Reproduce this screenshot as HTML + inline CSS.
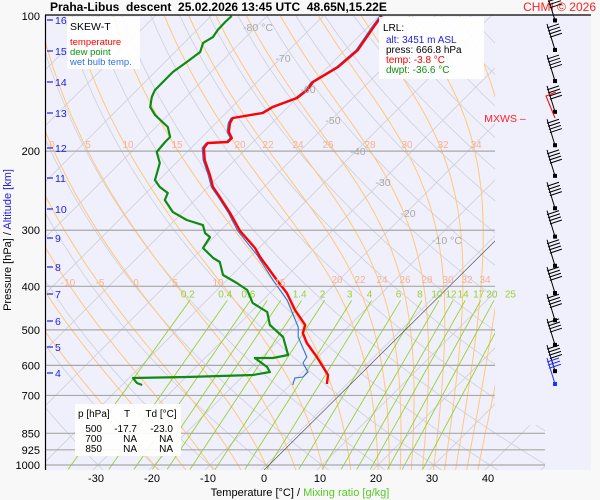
<!DOCTYPE html>
<html><head><meta charset="utf-8"><style>
html,body{margin:0;padding:0;background:#fff;}
svg{display:block;font-family:"Liberation Sans",sans-serif;}
</style></head><body>
<svg id="chart" width="600" height="500" viewBox="0 0 600 500" xmlns="http://www.w3.org/2000/svg">
<rect x="0" y="0" width="600" height="500" fill="#f8f8f8"/>
<rect x="45" y="15" width="546" height="455" fill="#f0f0fc"/>
<defs><clipPath id="clipA"><path d="M45,15 H495 V425 H545 V470 H45 Z"/></clipPath></defs>
<g id="grid" clip-path="url(#clipA)"></g>
<g id="series" clip-path="url(#clipA)"></g>
<g id="overlay"></g>
<line x1="45" y1="15" x2="591" y2="15" stroke="#000" stroke-width="1.2"/>
<line x1="45.5" y1="15" x2="45.5" y2="470" stroke="#000" stroke-width="1.2"/>
<text x="50" y="11" font-size="12" font-weight="bold">Praha-Libus&#160;&#160;descent&#160;&#160;25.02.2026 13:45 UTC&#160;&#160;48.65N,15.22E</text>
<text x="596" y="11" font-size="12" fill="#ff2020" text-anchor="end">CHMI © 2026</text>
<g>
<rect x="67" y="17" width="73" height="52" fill="#fff" opacity="0.9"/>
<text x="70" y="30" font-size="10.5">SKEW-T</text>
<text x="70" y="45" font-size="9.5" fill="#ff0000">temperature</text>
<text x="70" y="55" font-size="9.5" fill="#109010">dew point</text>
<text x="70" y="65" font-size="9.5" fill="#3070e0">wet bulb temp.</text>
</g>
<g>
<rect x="379" y="17" width="105" height="62" fill="#fff" opacity="0.92"/>
<text x="383" y="31" font-size="10">LRL:</text>
<text x="386" y="43" font-size="10" fill="#2020e0">alt: 3451 m ASL</text>
<text x="386" y="53" font-size="10">press: 666.8 hPa</text>
<text x="386" y="63" font-size="10" fill="#ff0000">temp: -3.8 °C</text>
<text x="386" y="73" font-size="10" fill="#109010">dwpt: -36.6 °C</text>
</g>
<g>
<rect x="75" y="404" width="106" height="52" fill="#fff" opacity="0.9"/>
<text x="78" y="417" font-size="10">p [hPa]</text>
<text x="127" y="417" font-size="10" text-anchor="middle">T</text>
<text x="161" y="417" font-size="10" text-anchor="middle">Td [°C]</text>
<text x="102" y="432" font-size="10" text-anchor="end">500</text>
<text x="137" y="432" font-size="10" text-anchor="end">-17.7</text>
<text x="173" y="432" font-size="10" text-anchor="end">-23.0</text>
<text x="102" y="442" font-size="10" text-anchor="end">700</text>
<text x="137" y="442" font-size="10" text-anchor="end">NA</text>
<text x="173" y="442" font-size="10" text-anchor="end">NA</text>
<text x="102" y="452" font-size="10" text-anchor="end">850</text>
<text x="137" y="452" font-size="10" text-anchor="end">NA</text>
<text x="173" y="452" font-size="10" text-anchor="end">NA</text>
</g>
<text x="300" y="496" font-size="11" text-anchor="middle"><tspan fill="#000">Temperature [°C]  /  </tspan><tspan fill="#55cc22">Mixing ratio [g/kg]</tspan></text>
<text transform="translate(11,240) rotate(-90)" font-size="11" text-anchor="middle"><tspan fill="#000">Pressure [hPa]  /  </tspan><tspan fill="#2020e0">Altitude [km]</tspan></text>
<text x="505" y="122" font-size="10.5" fill="#ff2020" text-anchor="middle">MXWS –</text>
<g id="winds"></g>
</svg>
<script>
// ---- data ----
const pressureTicks = [100,200,300,400,500,600,700,850,925,1000];
const tempTicks = [-30,-20,-10,0,10,20,30,40];
const altTicks = [4,5,6,7,8,9,10,11,12,13,14,15,16];
const altTickY = [373,347,321,294,267,238,209,178,148,113,82,51,20];
const isothermLabels = [-80,-70,-60,-50,-40,-30,-20,-10];
const mixRatios = [0.2,0.4,0.6,0.8,1,1.4,2,3,4,6,8,10,12,14,17,20,25];
const mixLabels = ["0.2","0.4","0.6","","","1.4","2","3","4","6","8","10","12","14","17","20","25"];
const wetBulbPot = [-20,-15,-10,-5,0,5,10,15,20,22,24,26,28,30,32,34,36,38];
const dryThetas = [-60,-50,-40,-30,-20,-10,0,10,20,30,40,50,60,70,80,90,100,110,120,130,140,150,160,170,180,190,200];
const tempP = [100,104.7,119.1,129.9,140.3,146.2,152.3,159.5,164.4,167.0,168.7,173.1,181.3,186.9,190.8,191.8,196.8,209.3,226.0,240.4,253.0,274.7,301.3,328.7,344.2,387.3,414.0,451.7,487.7,508.2,535.0,574.8,630.4,660.0];
const tempT = [-59.5,-59.1,-57.7,-58.2,-60,-59.6,-60,-62.7,-63.4,-66.1,-67.9,-67.5,-66.1,-64.5,-64.5,-67.9,-67.7,-65.4,-61.8,-59.1,-56.1,-51.4,-46.4,-40.7,-38.2,-31.1,-27.0,-22.5,-18.0,-17.0,-14.5,-10.2,-5.0,-3.6];
const dewP = [100,103.1,107.4,111.4,114.8,120.3,126.6,133.2,140.3,146.2,151.5,159.5,166.2,176.7,186.0,190.8,200.9,212.5,232.0,240.4,247.9,256.9,273.3,284.7,292.2,304.4,310.7,328.7,345.9,353.1,377.5,393.3,407.6,435.7,456.4,487.7,518.8,568.9,577.7,577.7,604.9,620.8,630.4,636.8,640.1,656.8,663.5];
const dewT = [-86.3,-86.4,-86.3,-85.9,-86.6,-85.5,-86.1,-86.8,-86.8,-86.8,-86.1,-84.6,-82.3,-77.9,-75.7,-75.7,-75.4,-72.9,-70.7,-68.6,-66.1,-65.4,-61.8,-57.9,-54.1,-52.3,-50.7,-50.0,-46.4,-44.5,-41.6,-37.7,-34.6,-31.3,-27.1,-24.3,-19.8,-15.7,-17.9,-21.1,-17.3,-15.9,-18.4,-29.8,-39.3,-37.7,-36.4];
const wetP = [100,104.7,119.1,129.9,140.3,146.2,152.3,159.5,164.4,167.0,168.7,173.1,181.3,186.9,190.8,191.8,196.8,209.3,226.0,240.4,253.0,274.7,301.3,340.7,387.3,429.1,492.8,518.8,574.8,592.7,620.8,636.8,640.1,663.5];
const wetT = [-59.8,-59.4,-58.0,-58.5,-60.3,-59.9,-60.3,-63.0,-63.7,-66.4,-68.2,-67.8,-66.4,-64.8,-64.8,-68.2,-68.0,-65.7,-62.1,-59.4,-56.4,-51.7,-46.8,-39.1,-31.8,-25.7,-18.9,-17.1,-12.0,-11.6,-9.1,-9.1,-10.4,-9.5];
const windP = [102.3,119,139.6,163.5,194,227,268,310,360,414,476,540,618,660];
const windSpeed = [40,40,40,40,40,40,40,40,40,40,40,40,40,30];

// ---- axes ----
const NS='http://www.w3.org/2000/svg';
function yP(p){return 16+449*Math.log10(p/100);}
function xT(T,p){return 264+5.6*T+(467-yP(p));}
function mk(tag,attrs,parent){const e=document.createElementNS(NS,tag);for(const k in attrs)e.setAttribute(k,attrs[k]);parent.appendChild(e);return e;}
const grid=document.getElementById('grid'), series=document.getElementById('series'), overlay=document.getElementById('overlay'), winds=document.getElementById('winds');
function pathFrom(ps,ts){return ps.map((p,i)=>(i?'L':'M')+xT(ts[i],p).toFixed(1)+','+yP(p).toFixed(1)).join(' ');}

for(let T=-150;T<=60;T+=10){
  const l=mk('line',{x1:xT(T,1050),y1:yP(1050),x2:xT(T,95),y2:yP(95),stroke:'#cfcfd8','stroke-width':0.8},grid);
  
  
}
dryThetas.forEach(th=>{
  const ps=[],ts=[];
  for(let p=1050;p>=95;p-=10){ps.push(p);ts.push((th+273.15)*Math.pow(p/1000,0.286)-273.15);}
  const e=mk('path',{d:pathFrom(ps,ts),fill:'none',stroke:'#cfcfd8','stroke-width':0.8},grid);
  
  
});
function es(Tc){return 6.112*Math.exp(17.67*Tc/(Tc+243.5));}
function dTdp(T,p){const e=es(T-273.15), rs=0.622*e/(p-e);return (287*T+2.5e6*rs)/(p*(1004+2.5e6*2.5e6*rs*0.622/(287*T*T)));}
wetBulbPot.forEach(tw=>{
  let Td=tw+273.15;
  for(let p=1000;p<1050;p+=5){Td+=dTdp(Td,p)*5;}
  const ps=[1050],ts=[Td-273.15];
  let T=tw+273.15;
  for(let p=1000;p>95;p-=5){ps.push(p);ts.push(T-273.15);T-=dTdp(T,p)*5;}
  const e=mk('path',{d:pathFrom(ps,ts),fill:'none',stroke:'#ffc878','stroke-width':1},grid);
  
  
});
function tdFromW(w,p){const e=w*p/(622+w);const a=Math.log(e/6.112);return 243.5*a/(17.67-a);}
mixRatios.forEach((w,i)=>{
  const l=mk('line',{x1:xT(tdFromW(w,1023),1023),y1:yP(1023),x2:xT(tdFromW(w,430),430),y2:yP(430),stroke:'#99d030','stroke-width':0.9},grid);
  
  
  if(mixLabels[i]){
    const t=mk('text',{x:xT(tdFromW(w,430),430)-2,y:yP(430)-3,'font-size':10,fill:'#99d030','text-anchor':'middle'},overlay);
    t.textContent=mixLabels[i];
    
    
  }
});
[[68,286,'-10'],[100,286,'-5'],[136,286,'0'],[175,286,'5'],[218,286,'10'],[280,286,'15'],[337,283,'20'],[360,283,'22'],[382,283,'24'],[405,283,'26'],[427,283,'28'],[448,283,'30'],[467,283,'32'],[485,283,'34'],
 [52,148,'0'],[88,148,'5'],[128,148,'10'],[177,148,'15'],[240,148,'20'],[268,148,'22'],[298,148,'24'],[328,148,'26'],[370,148,'28'],[407,148,'30'],[443,148,'32'],[476,148,'34']].forEach(a=>{
  const t=mk('text',{x:a[0],y:a[1],'font-size':10,fill:'#f8b090','text-anchor':'middle'},overlay);
  t.textContent=a[2];
  
  
});
pressureTicks.forEach(p=>{
  const y=yP(p);
  if(p>100){
    const l=mk('line',{x1:45,y1:y,x2:p>=850?545:495,y2:y,stroke:'#a8a8a8','stroke-width':1.2},grid);
    
    
  }
  const t=mk('text',{x:40,y:y+4,'font-size':11,'text-anchor':'end'},overlay);
  t.textContent=p;
  
  
});
isothermLabels.forEach(T=>{
  const ly=(T===-80?27:T===-10?240:27+(T+80)*(213-27)/60);
  const p=100*Math.pow(10,(ly-16)/449);
  const t=mk('text',{x:xT(T,p)+(T===-10?12:2),y:yP(p)+4,'font-size':10.5,fill:'#a8a8a8','text-anchor':'middle'},overlay);
  t.textContent=(T===-80||T===-10)?T+' °C':String(T);
  
  
});
tempTicks.forEach(T=>{
  const t=mk('text',{x:xT(T,1000)-2,y:482,'font-size':11,'text-anchor':'middle'},overlay);
  t.textContent=T;
  
  
});
altTicks.forEach((a,i)=>{
  const y=altTickY[i];
  const l=mk('line',{x1:47,y1:y,x2:53,y2:y,stroke:'#2020e0','stroke-width':1.2},overlay);
  
  
  const t=mk('text',{x:55,y:y+4,'font-size':10.5,fill:'#2020e0'},overlay);
  t.textContent=a;
  
  
});
const dl=mk('line',{x1:264,y1:470,x2:496,y2:240,stroke:'#555','stroke-width':0.7},grid);


const wb=mk('path',{d:pathFrom(wetP,wetT),fill:'none',stroke:'#3070e0','stroke-width':1.1},series);


const tl=mk('path',{d:pathFrom(tempP,tempT),fill:'none',stroke:'#ff0000','stroke-width':2.4,'stroke-linejoin':'round'},series);


const dw=mk('path',{d:pathFrom(dewP,dewT),fill:'none',stroke:'#108a10','stroke-width':2.2,'stroke-linejoin':'round'},series);


windP.forEach((p,i)=>{
  const y=yP(p), x=555, last=i===windP.length-1, col=last?'#2030ff':'#000';
  const sx=x-8, sy=y-26;
  const s=mk('line',{x1:x,y1:y,x2:sx,y2:sy,stroke:col,'stroke-width':1},winds);
  
  
  const n=Math.floor(windSpeed[i]/10);
  for(let k=0;k<n;k++){
    const bx=sx+8*(k*0.12), by=sy+26*(k*0.12)+4;
    const b=mk('line',{x1:bx,y1:by,x2:bx+12,y2:by-4,stroke:col,'stroke-width':1},winds);
    
    
  }
  const d=mk('rect',{x:x-2,y:y-2,width:4,height:4,fill:col},winds);
  
  
});
const mx=mk('path',{d:'M556,92 L546,96 L555,118',fill:'none',stroke:'#ff0000','stroke-width':1},winds);


</script>
</body></html>
